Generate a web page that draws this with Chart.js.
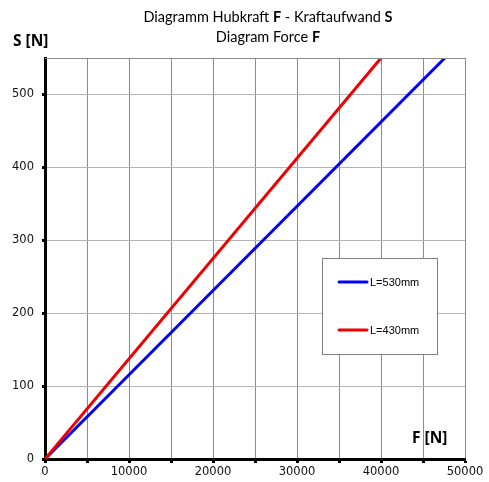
<!DOCTYPE html>
<html><head><meta charset="utf-8">
<script src="https://cdn.jsdelivr.net/npm/chart.js@4"></script>
<style>html,body{margin:0;padding:0;background:#fff}#wrap{width:489px;height:482px}</style>
</head><body><div id="wrap"><canvas id="c" width="489" height="482"></canvas></div>
<script>
// Data (straight lines through origin)
const seriesNames = ['L=530mm', 'L=430mm'];
const forceF_530 = [0, 47600];
const effortS_530 = [0, 550];
const forceF_430 = [0, 40000];
const effortS_430 = [0, 550];
const titleLine1 = [['Diagramm Hubkraft ', false], ['F', true], [' - Kraftaufwand ', false], ['S', true]];
const titleLine2 = [['Diagram Force ', false], ['F', true]];
const yAxisTitle = 'S [N]';
const xAxisTitle = 'F [N]';

const colors = ['#0000FF', '#F00000'];
const toPts = (xs, ys) => xs.map((x, i) => ({x: x, y: ys[i]}));

function drawRich(ctx, segs, cx, y, size, family) {
  let total = 0;
  segs.forEach(s => { ctx.font = (s[1] ? 'bold ' : '') + size + 'px ' + family; total += ctx.measureText(s[0]).width; });
  let x = cx - total / 2;
  ctx.textAlign = 'left'; ctx.textBaseline = 'middle'; ctx.fillStyle = '#000';
  segs.forEach(s => { ctx.font = (s[1] ? 'bold ' : '') + size + 'px ' + family; ctx.fillText(s[0], x, y); x += ctx.measureText(s[0]).width; });
}

const decor = {
  id: 'decor',
  afterDraw(chart) {
    const ctx = chart.ctx, a = chart.chartArea;
    ctx.save();
    // top border
    ctx.strokeStyle = '#8c8c8c'; ctx.lineWidth = 1;
    ctx.beginPath(); ctx.moveTo(a.left, a.top + 0.5); ctx.lineTo(a.right, a.top + 0.5); ctx.stroke();
    // titles
    const fam = 'Lato, "Open Sans", sans-serif';
    drawRich(ctx, titleLine1, 268, 17, 14.5, fam);
    drawRich(ctx, titleLine2, 268, 37, 14.5, fam);
    ctx.font = 'bold 15.5px "Open Sans", sans-serif'; ctx.textAlign = 'left'; ctx.textBaseline = 'middle';
    ctx.fillText(yAxisTitle, 13, 42);
    ctx.fillText(xAxisTitle, 412, 439);
    // legend box
    ctx.fillStyle = '#fff'; ctx.fillRect(322, 258, 115, 96);
    ctx.strokeStyle = '#808080'; ctx.lineWidth = 1; ctx.strokeRect(322.5, 258.5, 115, 96);
    const ys = [282, 330];
    chart.data.datasets.forEach((ds, i) => {
      ctx.strokeStyle = ds.borderColor; ctx.lineWidth = 3; ctx.lineCap = 'round';
      ctx.beginPath(); ctx.moveTo(339, ys[i]); ctx.lineTo(367, ys[i]); ctx.stroke();
      ctx.fillStyle = '#000'; ctx.font = '11px "Liberation Sans", Arial, sans-serif';
      ctx.textAlign = 'left'; ctx.textBaseline = 'middle';
      ctx.fillText(ds.label, 370, ys[i] + 0.5);
    });
    ctx.restore();
  }
};

new Chart(document.getElementById('c'), {
  type: 'scatter',
  data: {
    datasets: [
      {label: seriesNames[0], data: toPts(forceF_530, effortS_530), borderColor: colors[0], backgroundColor: colors[0], showLine: true, pointRadius: 0, borderWidth: 3, order: 1},
      {label: seriesNames[1], data: toPts(forceF_430, effortS_430), borderColor: colors[1], backgroundColor: colors[1], showLine: true, pointRadius: 0, borderWidth: 3, order: 0}
    ]
  },
  options: {
    responsive: false, animation: false, devicePixelRatio: 1,
    layout: {padding: {top: 58, right: 24, left: 0, bottom: 0}},
    plugins: {legend: {display: false}, title: {display: false}, tooltip: {enabled: false}},
    scales: {
      x: {
        type: 'linear', min: 0, max: 50000,
        afterFit: s => { s.height = 23; },
        ticks: {stepSize: 5000, autoSkip: false, maxRotation: 0, padding: 2, color: '#111',
          font: {family: '"DejaVu Sans", Verdana, sans-serif', size: 11.5},
          callback: v => (v % 10000 === 0 ? String(v) : '')},
        grid: {color: '#8c8c8c', lineWidth: 1, tickColor: '#000', tickLength: 4, tickWidth: 3},
        border: {display: true, color: '#000', width: 3}
      },
      y: {
        type: 'linear', min: 0, max: 550,
        afterFit: s => { s.width = 45; },
        afterBuildTicks: s => { s.ticks = s.ticks.filter(t => t.value % 100 === 0); },
        ticks: {stepSize: 100, padding: 8, color: '#111',
          font: {family: '"DejaVu Sans", Verdana, sans-serif', size: 11.5}},
        grid: {color: '#b4b4b4', lineWidth: 1, tickColor: '#000', tickLength: 3, tickWidth: 3},
        border: {display: true, color: '#000', width: 3}
      }
    }
  },
  plugins: [decor]
});
</script>
</body></html>
